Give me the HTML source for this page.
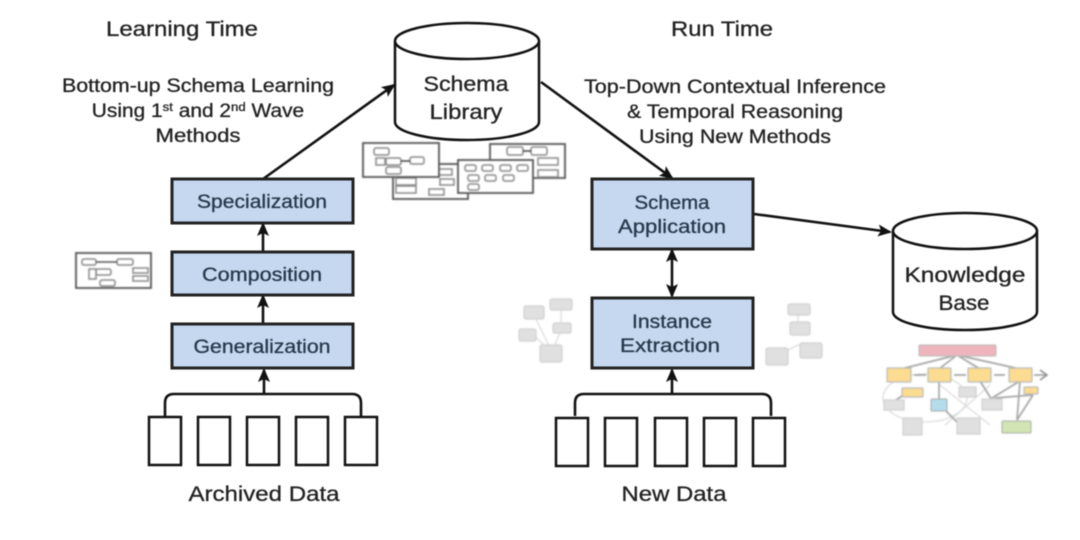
<!DOCTYPE html>
<html><head><meta charset="utf-8"><style>
html,body{margin:0;padding:0;background:#fff;width:1080px;height:540px;overflow:hidden}
svg{display:block;filter:blur(.5px)}
text{font-family:"Liberation Sans",sans-serif;fill:#222;stroke:#222;stroke-width:.3;text-anchor:middle}
.m{font-size:21px}
.s{font-size:19px}
.b{font-size:19px;fill:#26384a;stroke:#26384a}
.box{fill:#c5d8f0;stroke:#222;stroke-width:3}
.doc{fill:#fff;stroke:#111;stroke-width:2.5}
.l{fill:none;stroke:#111;stroke-width:2.6}
.t{fill:#fff;stroke:#555;stroke-width:1.8}
.n{fill:#fff;stroke:#888;stroke-width:1.5}
.g{fill:#e0e0e0;stroke:#d0d0d0;stroke-width:1.2}
.gl{fill:none;stroke:#ddd;stroke-width:1.3}
.kl{fill:none;stroke:#a5a5a5;stroke-width:1.7}
.y{fill:#fbdc90;stroke:#bbb;stroke-width:1.2}
.soft{filter:blur(.5px)}
</style></head><body>
<svg width="1080" height="540" viewBox="0 0 1080 540">
<defs><marker id="a" markerWidth="14" markerHeight="12" refX="12" refY="6" orient="auto-start-reverse" markerUnits="userSpaceOnUse"><path d="M0 0L14 6L0 12L3 6Z" fill="#111"/></marker></defs>

<text class="m" x="182" y="36" textLength="152" lengthAdjust="spacingAndGlyphs">Learning Time</text>
<text class="m" x="722" y="36" textLength="102" lengthAdjust="spacingAndGlyphs">Run Time</text>
<text class="s" x="198" y="92" textLength="272" lengthAdjust="spacingAndGlyphs">Bottom-up Schema Learning</text>
<text class="s" transform="translate(198 0) scale(1.1 1) translate(-198 0)" x="198" y="117">Using 1<tspan font-size="12" dy="-6">st</tspan><tspan dy="6"> and 2</tspan><tspan font-size="12" dy="-6">nd</tspan><tspan dy="6"> Wave</tspan></text>
<text class="s" x="198" y="142" textLength="85" lengthAdjust="spacingAndGlyphs">Methods</text>
<text class="s" x="735" y="93" textLength="302" lengthAdjust="spacingAndGlyphs">Top-Down Contextual Inference</text>
<text class="s" x="735" y="118" textLength="216" lengthAdjust="spacingAndGlyphs">&amp; Temporal Reasoning</text>
<text class="s" x="735" y="143" textLength="192" lengthAdjust="spacingAndGlyphs">Using New Methods</text>

<!-- Schema Library -->
<path d="M395 41V122A72 18 0 0 0 539 122V41" fill="#fff" stroke="#111" stroke-width="2.5"/>
<ellipse cx="467" cy="41" rx="72" ry="18" fill="#fff" stroke="#111" stroke-width="2.5"/>
<text class="m" x="466" y="91" textLength="85" lengthAdjust="spacingAndGlyphs">Schema</text>
<text class="m" x="466" y="119" textLength="73" lengthAdjust="spacingAndGlyphs">Library</text>

<!-- Knowledge Base -->
<path d="M893 231V312A72 18 0 0 0 1037 312V231" fill="#fff" stroke="#111" stroke-width="2.5"/>
<ellipse cx="965" cy="231" rx="72" ry="18" fill="#fff" stroke="#111" stroke-width="2.5"/>
<text class="m" x="965" y="282" textLength="121" lengthAdjust="spacingAndGlyphs">Knowledge</text>
<text class="m" x="964" y="310" textLength="51" lengthAdjust="spacingAndGlyphs">Base</text>

<!-- Arrows -->
<path class="l" d="M263 179L394 85" marker-end="url(#a)"/>
<path class="l" d="M541 82L672 178" marker-end="url(#a)"/>
<path class="l" d="M754 214L890 232" marker-end="url(#a)"/>
<path class="l" d="M263 252V224" marker-end="url(#a)"/>
<path class="l" d="M263 324V296" marker-end="url(#a)"/>
<path class="l" d="M672 296V250" marker-end="url(#a)" marker-start="url(#a)"/>
<path class="l" d="M264 394V370" marker-end="url(#a)"/>
<path class="l" d="M672 394V370" marker-end="url(#a)"/>
<path class="l" d="M165 416V403Q165 394 174 394H352Q361 394 361 403V416"/>
<path class="l" d="M575 416V403Q575 394 584 394H762Q771 394 771 403V416"/>

<!-- Boxes -->
<rect class="box" x="172" y="179" width="181" height="44"/>
<text class="b" x="262" y="208" textLength="130" lengthAdjust="spacingAndGlyphs">Specialization</text>
<rect class="box" x="172" y="252" width="181" height="43"/>
<text class="b" x="262" y="281" textLength="120" lengthAdjust="spacingAndGlyphs">Composition</text>
<rect class="box" x="172" y="324" width="181" height="44"/>
<text class="b" x="262" y="353" textLength="137" lengthAdjust="spacingAndGlyphs">Generalization</text>
<rect class="box" x="592" y="179" width="161" height="70"/>
<text class="b" x="672" y="209" textLength="75" lengthAdjust="spacingAndGlyphs">Schema</text>
<text class="b" x="672" y="233" textLength="108" lengthAdjust="spacingAndGlyphs">Application</text>
<rect class="box" x="592" y="298" width="161" height="70"/>
<text class="b" x="672" y="328" textLength="80" lengthAdjust="spacingAndGlyphs">Instance</text>
<text class="b" x="670" y="352" textLength="100" lengthAdjust="spacingAndGlyphs">Extraction</text>

<!-- Data docs -->
<rect class="doc" x="149" y="417" width="32" height="48"/>
<rect class="doc" x="198" y="417" width="32" height="48"/>
<rect class="doc" x="247" y="417" width="32" height="48"/>
<rect class="doc" x="296" y="417" width="32" height="48"/>
<rect class="doc" x="345" y="417" width="32" height="48"/>
<rect class="doc" x="556" y="418" width="32" height="48"/>
<rect class="doc" x="605" y="418" width="32" height="48"/>
<rect class="doc" x="655" y="418" width="32" height="48"/>
<rect class="doc" x="704" y="418" width="32" height="48"/>
<rect class="doc" x="753" y="418" width="32" height="48"/>
<text class="m" x="264" y="501" textLength="151" lengthAdjust="spacingAndGlyphs">Archived Data</text>
<text class="m" x="674" y="501" textLength="105" lengthAdjust="spacingAndGlyphs">New Data</text>

<!-- Schema thumbnails -->
<g class="soft">
<rect class="t" x="393" y="164" width="75" height="35"/>
<rect class="n" x="396" y="178" width="20" height="7"/><rect class="n" x="396" y="186" width="20" height="7"/>
<rect class="n" x="429" y="189" width="15" height="6"/><rect class="n" x="436" y="169" width="16" height="6"/><rect class="n" x="440" y="179" width="14" height="6"/>
<rect class="t" x="490" y="144" width="75" height="34"/>
<rect class="n" x="507" y="147" width="16" height="8" rx="2"/><rect class="n" x="531" y="147" width="16" height="8" rx="2"/><rect class="n" x="538" y="158" width="20" height="7"/><rect class="n" x="538" y="170" width="20" height="7"/>
<path d="M523 151H531" stroke="#333" stroke-width="1.4"/>
<rect class="t" x="363" y="143" width="76" height="34"/>
<rect class="n" x="374" y="148" width="15" height="7" rx="2"/><rect class="n" x="376" y="158" width="9" height="7"/><rect class="n" x="386" y="158" width="15" height="7" rx="2"/><rect class="n" x="386" y="167" width="15" height="7" rx="2"/><rect class="n" x="410" y="157" width="14" height="7" rx="2"/>
<path d="M401 161H410" stroke="#333" stroke-width="1.4"/>
<rect class="t" x="458" y="160" width="75" height="33"/>
<rect class="n" x="465" y="165" width="11" height="6" rx="2"/><rect class="n" x="482" y="165" width="11" height="6" rx="2"/><rect class="n" x="500" y="165" width="11" height="6" rx="2"/><rect class="n" x="517" y="165" width="11" height="6" rx="2"/>
<rect class="n" x="468" y="175" width="11" height="6" rx="2"/><rect class="n" x="485" y="175" width="11" height="6" rx="2"/><rect class="n" x="503" y="175" width="11" height="6" rx="2"/><rect class="n" x="468" y="184" width="11" height="6" rx="2"/>

<rect class="t" x="76" y="253" width="75" height="35"/>
<rect class="n" x="82" y="259" width="14" height="6" rx="2"/><rect class="n" x="117" y="259" width="16" height="6" rx="2"/><rect class="n" x="96" y="269" width="15" height="6" rx="2"/><rect class="n" x="100" y="280" width="15" height="6" rx="2"/>
<rect class="n" x="133" y="268" width="15" height="5"/><rect class="n" x="133" y="276" width="15" height="5"/><rect class="n" x="89" y="269" width="7" height="10"/>
<path d="M96 262H117" stroke="#555" stroke-width="1.4"/>
</g>

<!-- Grey instance graphs -->
<g class="soft">
<path class="gl" d="M534 315L552 352M561 310V330L552 352M533 335L552 352M798 315V335M798 345L778 355M798 345L811 350"/>
<rect class="g" x="524" y="306" width="20" height="13" rx="2"/><rect class="g" x="550" y="299" width="22" height="11" rx="2"/><rect class="g" x="553" y="323" width="18" height="10" rx="2"/><rect class="g" x="519" y="329" width="17" height="12" rx="2"/><rect class="g" x="540" y="345" width="22" height="17" rx="2"/>
<rect class="g" x="788" y="304" width="22" height="11" rx="2"/><rect class="g" x="790" y="322" width="20" height="13" rx="2"/><rect class="g" x="766" y="348" width="22" height="17" rx="2"/><rect class="g" x="800" y="343" width="22" height="15" rx="2"/>
</g>

<!-- Knowledge graph -->
<g class="soft">
<ellipse cx="925" cy="398" rx="42" ry="24" class="gl"/>
<path class="gl" d="M940 385L990 425M990 385L945 425"/>
<path class="kl" d="M957 355L901 369M957 355L939 369M957 355L980 369M957 355L1020 369M939 381V405M980 381L992 400M1020 381L1017 420M1020 381L992 398M1033 395L1017 420M1033 395L995 398M902 396L893 402M938 403L958 423"/>
<path class="kl" d="M914 375H926M954 375H966M994 375H1005M1034 375H1047"/>
<path d="M1040 370L1047 375L1040 380" fill="none" stroke="#888" stroke-width="1.4"/>
<rect x="919" y="345" width="77" height="11" rx="1" fill="#eeb5bc" stroke="#bbb"/>
<rect class="y" x="887" y="368" width="24" height="14" rx="1"/><rect class="y" x="928" y="368" width="23" height="14" rx="1"/><rect class="y" x="968" y="368" width="23" height="14" rx="1"/><rect class="y" x="1009" y="368" width="23" height="14" rx="1"/>
<rect class="y" x="902" y="388" width="21" height="9" rx="1"/><rect class="y" x="1024" y="387" width="14" height="7" rx="1"/>
<rect x="931" y="399" width="16" height="12" rx="1" fill="#b5dcea" stroke="#aaa"/>
<rect class="g" x="884" y="400" width="20" height="10"/><rect class="g" x="959" y="387" width="17" height="10"/><rect class="g" x="982" y="399" width="20" height="11"/>
<rect class="g" x="903" y="418" width="19" height="17"/><rect class="g" x="957" y="418" width="23" height="16"/>
<rect x="1002" y="421" width="29" height="12" rx="1" fill="#d2e4b4" stroke="#aaa"/>
</g>
</svg>
</body></html>
